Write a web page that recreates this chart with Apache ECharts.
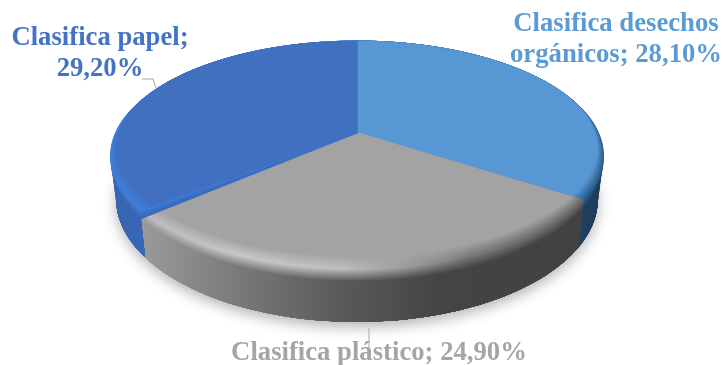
<!DOCTYPE html>
<html>
<head>
<meta charset="utf-8">
<style>html,body{margin:0;padding:0;background:#fff}#chart{width:723px;height:365px}</style>
<script src="https://cdn.jsdelivr.net/npm/echarts@6/dist/echarts.min.js"></script>
</head>
<body>
<div id="chart"></div>
<script>
// Chart values
const categories = ['Clasifica desechos orgánicos', 'Clasifica plástico', 'Clasifica papel'];
const values = [28.1, 24.9, 29.2];

// Label placement: text anchor, line break and leader line
const labelLayouts = [
  { x: 616, y: 40, breakAfter: 'desechos', leader: null },
  { x: 379, y: 353, breakAfter: null, leader: [[369, 328], [369, 350]] },
  { x: 100, y: 54, breakAfter: 'papel;', leader: [[142, 79], [153, 79], [156, 88]] }
];

// Slice shading: top face, label colour, side wall and rim highlight along x
const sliceStyles = [
  { face: '#5797d3', text: '#5b9bd5',
    wall: [[582, '#1f4060'], [604, '#1c3a58']],
    rim: [[582, '#2c5f8e'], [604, '#2c5f8e']] },
  { face: '#a3a3a3', text: '#a5a5a5',
    wall: [[143, '#9a9a9a'], [230, '#7c7c7c'], [340, '#5a5a5a'], [440, '#444444'], [582, '#424242']],
    rim: [[143, '#bcbcbc'], [240, '#c8c8c8'], [340, '#c0c0c0'], [400, '#a0a0a0'], [470, '#777777'], [582, '#666666']] },
  { face: '#4170c0', text: '#4472c4',
    wall: [[111, '#3a63ad'], [143, '#3767b8']],
    rim: [[111, '#3f7edd'], [143, '#3f7edd']] }
];

// Perspective projection of the disc; the underside sits slightly farther away
const CX = 357, CY = 133, AX = 241.7, AY = 110, PERSP = 0.1965, DEPTH = 41.8, FAR_SCALE = 0.977;
const RIM_STEPS = 12, RIM_WIDTH = 0.08, RIM_DROP = 10, ARC_STEP = 2, WALL_LAYERS = 10;

const total = values.reduce((a, b) => a + b, 0);

function sliceAngles(i) {
  let before = 0;
  for (let k = 0; k < i; k++) before += values[k];
  return [before / total * 360, (before + values[i]) / total * 360];
}

function project(deg, r, z) {
  const a = deg * Math.PI / 180;
  const x = Math.sin(a) * r, y = -Math.cos(a) * r;
  const d = 1 - PERSP * y;
  const shrink = 1 - (1 - FAR_SCALE) * z / DEPTH;
  return [CX + AX * x / d * shrink, CY + (AY * y + z) / d];
}

function arc(a0, a1, radiusAt, depthAt) {
  const pts = [];
  const n = Math.max(2, Math.ceil((a1 - a0) / ARC_STEP));
  for (let i = 0; i <= n; i++) {
    const a = a0 + (a1 - a0) * i / n;
    pts.push(project(a, radiusAt(a), depthAt(a)));
  }
  return pts;
}

function hex(c) {
  return [1, 3, 5].map(i => parseInt(c.substr(i, 2), 16));
}
function mix(c0, c1, t) {
  const a = hex(c0), b = hex(c1);
  return '#' + a.map((v, i) => Math.round(v + (b[i] - v) * t).toString(16).padStart(2, '0')).join('');
}
function sample(stops, x) {
  if (x <= stops[0][0]) return stops[0][1];
  for (let i = 1; i < stops.length; i++) {
    if (x <= stops[i][0]) {
      return mix(stops[i - 1][1], stops[i][1], (x - stops[i - 1][0]) / (stops[i][0] - stops[i - 1][0]));
    }
  }
  return stops[stops.length - 1][1];
}

function horizontalGradient(stops, colorAt) {
  const x0 = stops[0][0], x1 = stops[stops.length - 1][0];
  const xs = new Set();
  stops.forEach(s => xs.add(s[0]));
  return new echarts.graphic.LinearGradient(x0, 0, x1, 0,
    [...xs].sort((a, b) => a - b).map(x => ({ offset: (x - x0) / (x1 - x0), color: colorAt(x) })), true);
}

// How much of the rim shows at an angle: none along the back edge
function rimWeight(deg) {
  const y = -Math.cos(deg * Math.PI / 180);
  return Math.pow(Math.min(1, Math.max(0, (y + 0.5) / 1.5)), 1.5);
}

function renderBase() {
  const pts = arc(0, 360, () => 1, () => DEPTH);
  return {
    type: 'polygon', shape: { points: pts },
    style: { fill: '#888', shadowBlur: 14, shadowColor: 'rgba(0,0,0,0.3)', shadowOffsetY: 5 }
  };
}

// Overlapping wall layers, all running down to the underside, keep the outline smooth
function renderWall(params) {
  const s = sliceStyles[params.dataIndex];
  const [a0, a1] = sliceAngles(params.dataIndex);
  const fill = horizontalGradient(s.wall, x => sample(s.wall, x));
  const lower = arc(a0, a1, () => 1, () => DEPTH).reverse();
  const children = [];
  for (let j = 0; j < WALL_LAYERS; j++) {
    const z = DEPTH * j / WALL_LAYERS;
    const upper = arc(a0, a1, () => 1, () => z);
    children.push({
      type: 'polygon', shape: { points: upper.concat(lower) },
      style: { fill: fill }
    });
  }
  return { type: 'group', children: children };
}

function renderTop(params) {
  const s = sliceStyles[params.dataIndex];
  const [a0, a1] = sliceAngles(params.dataIndex);
  const children = [];
  const PEAK = 0.42;
  for (let k = 0; k <= RIM_STEPS; k++) {
    const t = k / RIM_STEPS;
    const inset = Math.max(0, (t - PEAK) / (1 - PEAK));
    const drop = Math.max(0, 1 - t / PEAK);
    const pts = arc(a0, a1,
      a => 1 - RIM_WIDTH * rimWeight(a) * inset,
      a => RIM_DROP * Math.sqrt(rimWeight(a)) * drop);
    pts.unshift([CX, CY]);
    const fill = k === RIM_STEPS ? s.face : horizontalGradient(s.wall.concat(s.rim).sort((p, q) => p[0] - q[0]), x => {
      const wall = sample(s.wall, x), rim = sample(s.rim, x);
      return t < PEAK ? mix(wall, rim, t / PEAK) : mix(rim, s.face, (t - PEAK) / (1 - PEAK));
    });
    children.push({
      type: 'polygon', shape: { points: pts },
      style: { fill: fill, stroke: fill, lineWidth: 0.5 }
    });
  }
  return { type: 'group', children: children };
}

function renderLabel(params) {
  const i = params.dataIndex;
  const layout = labelLayouts[i];
  const percent = values[i].toFixed(2).replace('.', ',') + '%';
  let text = categories[i] + '; ' + percent;
  if (layout.breakAfter) text = text.replace(layout.breakAfter + ' ', layout.breakAfter + '\n');
  const children = [];
  if (layout.leader) {
    children.push({
      type: 'polyline', shape: { points: layout.leader },
      style: { fill: null, stroke: '#a6a6a6', lineWidth: 1 }
    });
  }
  children.push({
    type: 'text', x: layout.x, y: layout.y,
    style: {
      text: text, fill: sliceStyles[i].text, align: 'center', verticalAlign: 'middle',
      font: 'bold 26.7px "Liberation Serif"', lineHeight: 31
    }
  });
  return { type: 'group', children: children };
}

const chart = echarts.init(document.getElementById('chart'), null, { renderer: 'canvas' });
const seriesData = values.map((v, i) => ({ name: categories[i], value: v }));
const customSeries = (name, renderItem, data) => ({
  type: 'custom', name: name, coordinateSystem: 'none', silent: true,
  animation: false, renderItem: renderItem, data: data
});

chart.setOption({
  backgroundColor: '#ffffff',
  animation: false,
  series: [
    customSeries('base', renderBase, [total]),
    customSeries('walls', renderWall, seriesData),
    customSeries('tops', renderTop, seriesData),
    customSeries('labels', renderLabel, seriesData)
  ]
});
</script>
</body>
</html>
